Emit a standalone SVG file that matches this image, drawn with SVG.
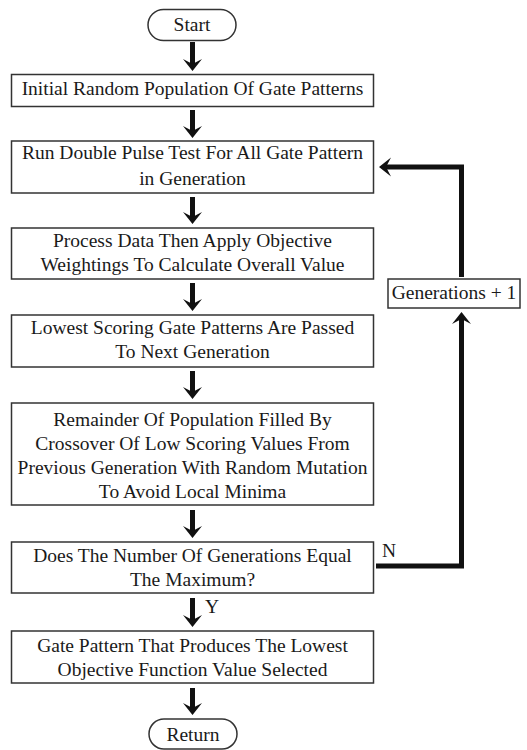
<svg xmlns="http://www.w3.org/2000/svg" xmlns:xlink="http://www.w3.org/1999/xlink" width="527" height="750" viewBox="0 0 527 750">
<style>
.box{fill:#fff;stroke:#333;stroke-width:1.5}
.t{font-family:"Liberation Serif","Times New Roman",serif;font-size:19.5px;fill:#1a1a1a;text-anchor:middle}
.lbl{font-family:"Liberation Serif","Times New Roman",serif;font-size:19.5px;fill:#1a1a1a}
.ln{fill:none;stroke:#111;stroke-width:5}
.ah{fill:#111}
</style>
<defs>
<path id="ah" d="M0,0 L-9.5,-12 L0,-7 L9.5,-12 Z"/>
</defs>
<g id="connectors">
<line class="ln" x1="192.5" y1="42" x2="192.5" y2="65"/><use href="#ah" class="ah" transform="translate(192.5,71)"/>
<line class="ln" x1="192.5" y1="110" x2="192.5" y2="132"/><use href="#ah" class="ah" transform="translate(192.5,138)"/>
<line class="ln" x1="192.5" y1="197" x2="192.5" y2="218"/><use href="#ah" class="ah" transform="translate(192.5,224)"/>
<line class="ln" x1="192.5" y1="283" x2="192.5" y2="305"/><use href="#ah" class="ah" transform="translate(192.5,311)"/>
<line class="ln" x1="192.5" y1="371" x2="192.5" y2="393"/><use href="#ah" class="ah" transform="translate(192.5,399)"/>
<line class="ln" x1="192.5" y1="510" x2="192.5" y2="532"/><use href="#ah" class="ah" transform="translate(192.5,538)"/>
<line class="ln" x1="192.5" y1="598" x2="192.5" y2="621"/><use href="#ah" class="ah" transform="translate(192.5,627)"/>
<line class="ln" x1="192.5" y1="688" x2="192.5" y2="709"/><use href="#ah" class="ah" transform="translate(192.5,715)"/>
<polyline class="ln" points="461.5,277 461.5,167 386,167"/><use href="#ah" class="ah" transform="translate(379,167) rotate(90)"/>
<polyline class="ln" points="376,566 461.5,566 461.5,318"/><use href="#ah" class="ah" transform="translate(461.5,312) rotate(180)"/>
<text class="lbl" x="382" y="557">N</text>
<text class="lbl" x="205" y="613">Y</text>
</g>
<g id="start">
<rect class="box" x="148" y="9.5" width="88" height="31" rx="15.5"/>
<text class="t" x="192" y="31">Start</text>
</g>
<g id="init">
<rect class="box" x="11.5" y="74.5" width="362" height="32"/>
<text class="t" x="192.5" y="95">Initial Random Population Of Gate Patterns</text>
</g>
<g id="run">
<rect class="box" x="11.5" y="141" width="362" height="52"/>
<text class="t" x="192.5" y="159">Run Double Pulse Test For All Gate Pattern</text>
<text class="t" x="192.5" y="185">in Generation</text>
</g>
<g id="process">
<rect class="box" x="11.5" y="228" width="362" height="51"/>
<text class="t" x="192.5" y="247">Process Data Then Apply Objective</text>
<text class="t" x="192.5" y="271">Weightings To Calculate Overall Value</text>
</g>
<g id="lowest">
<rect class="box" x="11.5" y="315" width="362" height="52"/>
<text class="t" x="192.5" y="334">Lowest Scoring Gate Patterns Are Passed</text>
<text class="t" x="192.5" y="358">To Next Generation</text>
</g>
<g id="remainder">
<rect class="box" x="11.5" y="403" width="362" height="102"/>
<text class="t" x="192.5" y="426">Remainder Of Population Filled By</text>
<text class="t" x="192.5" y="450">Crossover Of Low Scoring Values From</text>
<text class="t" x="192.5" y="474">Previous Generation With Random Mutation</text>
<text class="t" x="192.5" y="498">To Avoid Local Minima</text>
</g>
<g id="decision">
<rect class="box" x="11.5" y="542" width="362" height="51"/>
<text class="t" x="192.5" y="562">Does The Number Of Generations Equal</text>
<text class="t" x="192.5" y="586">The Maximum?</text>
</g>
<g id="select">
<rect class="box" x="11.5" y="631" width="362" height="52"/>
<text class="t" x="192.5" y="652">Gate Pattern That Produces The Lowest</text>
<text class="t" x="192.5" y="676">Objective Function Value Selected</text>
</g>
<g id="generations">
<rect class="box" x="388" y="279" width="132" height="29"/>
<text class="t" x="454" y="299">Generations + 1</text>
</g>
<g id="return">
<rect class="box" x="149" y="719" width="88" height="30" rx="15"/>
<text class="t" x="193" y="741">Return</text>
</g>
</svg>
